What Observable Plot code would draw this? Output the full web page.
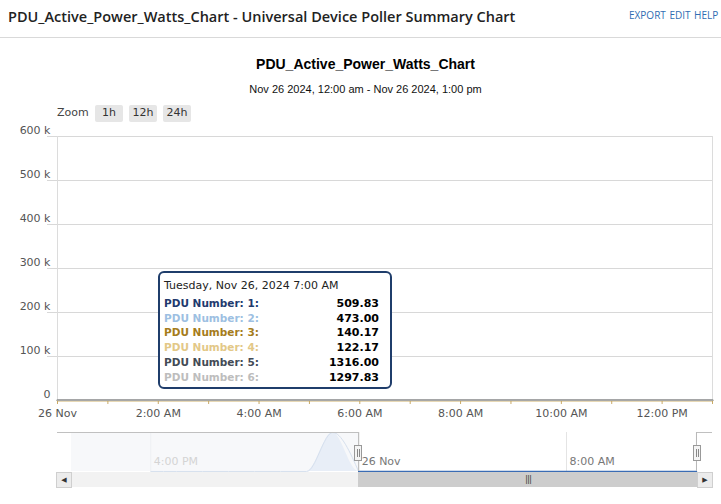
<!DOCTYPE html>
<html><head><meta charset="utf-8">
<script src="https://cdn.jsdelivr.net/npm/d3@7"></script>
<script src="https://cdn.jsdelivr.net/npm/@observablehq/plot@0.6"></script>
<style>
html,body{margin:0;padding:0;background:#fff;}
body{width:721px;height:504px;position:relative;overflow:hidden;font-family:"DejaVu Sans",sans-serif;}
.abs{position:absolute;}
#hdrTitle{left:8px;top:7px;font-family:"Open Sans";font-weight:600;font-size:14.5px;color:#222;white-space:nowrap;}
#hdrLinks{left:629px;top:8px;font-family:"Open Sans";font-size:10px;color:#2f6db3;white-space:nowrap;word-spacing:1px;}
#hdrLine{left:0;top:37px;width:721px;height:1px;background:#d9d9d9;}
#title{left:0;width:731px;top:56px;text-align:center;font-family:"Liberation Sans",Arial;font-weight:bold;font-size:14px;color:#000;}
#subtitle{left:0;width:731px;top:83px;text-align:center;font-family:"Liberation Sans",Arial;font-size:11px;color:#111;}
#zoomLbl{left:57px;top:106px;font-size:11px;color:#444;}
.zbtn{top:105px;height:17px;line-height:16px;width:28px;background:#e6e6e6;border-radius:2px;text-align:center;font-size:11px;color:#333;}
#tip{left:158px;top:271px;width:230px;height:114px;border:2px solid #1f3d6b;border-radius:6px;background:#fff;}
#tip .hd{position:absolute;left:4px;top:6px;font-size:11px;color:#222;white-space:nowrap;}
#tip .row{position:absolute;left:4px;width:215px;height:15px;font-size:10.5px;font-weight:bold;white-space:nowrap;}
#tip .row .v{position:absolute;right:0;top:0;color:#000;font-size:11px;}
.nline{background:#c0c0c0;height:1px;top:432px;}
.handle{top:445px;width:6px;height:14px;border:1px solid #999;background:#f4f4f4;}
.handle i{position:absolute;top:3px;width:1px;height:8px;background:#888;}
#track{left:71px;top:472px;width:627px;height:15px;background:#f2f2f2;}
#thumb{left:358px;top:472px;width:340px;height:15px;background:#cdcdcd;text-align:center;font-size:9px;line-height:15px;color:#444;letter-spacing:-1px;}
.sbtn{top:472px;width:14px;height:14px;border:1px solid #cfcfcf;background:#ececec;font-size:7px;line-height:14px;text-align:center;color:#333;}
</style></head>
<body>
<div id="hdrTitle" class="abs">PDU_Active_Power_Watts_Chart - Universal Device Poller Summary Chart</div>
<div id="hdrLinks" class="abs">EXPORT EDIT HELP</div>
<div id="hdrLine" class="abs"></div>
<div id="title" class="abs">PDU_Active_Power_Watts_Chart</div>
<div id="subtitle" class="abs">Nov 26 2024, 12:00 am - Nov 26 2024, 1:00 pm</div>
<div id="zoomLbl" class="abs">Zoom</div>
<div class="abs zbtn" style="left:95px">1h</div>
<div class="abs zbtn" style="left:129px">12h</div>
<div class="abs zbtn" style="left:163px">24h</div>
<div id="main" class="abs" style="left:0;top:0"></div>
<div id="nav" class="abs" style="left:0;top:428px"></div>
<div class="abs nline" style="left:57px;width:301px"></div>
<div class="abs nline" style="left:697px;width:15px"></div>
<div class="abs handle" style="left:354px"><i style="left:2px"></i><i style="left:4px"></i></div>
<div class="abs handle" style="left:693px"><i style="left:2px"></i><i style="left:4px"></i></div>
<div id="track" class="abs"></div>
<div id="thumb" class="abs">|||</div>
<div class="abs sbtn" style="left:56px">&#9664;</div>
<div class="abs sbtn" style="left:697px">&#9654;</div>
<div id="tip" class="abs"></div>
<script>
// ---- data ----
const hours = ["2024-11-26T00:00Z","2024-11-26T01:00Z","2024-11-26T02:00Z","2024-11-26T03:00Z","2024-11-26T04:00Z","2024-11-26T05:00Z","2024-11-26T06:00Z","2024-11-26T07:00Z","2024-11-26T08:00Z","2024-11-26T09:00Z","2024-11-26T10:00Z","2024-11-26T11:00Z","2024-11-26T12:00Z","2024-11-26T13:00Z"];
const seriesNames = ["PDU Number: 1","PDU Number: 2","PDU Number: 3","PDU Number: 4","PDU Number: 5","PDU Number: 6"];
const seriesColors = ["#1f3a6e","#9dbfe2","#a57c1b","#e3c887","#434b55","#bdbdbd"];
const pdu1 = [512.5,508.3,510.7,506.2,511.0,507.8,509.4,509.83,513.2,515.6,511.9,514.3,510.2,508.7];
const pdu2 = [470.2,468.5,474.1,471.3,469.8,472.6,470.9,473.00,476.4,478.1,474.7,477.3,473.5,471.8];
const pdu3 = [138.5,139.7,141.2,137.9,140.8,139.3,141.5,140.17,142.6,143.8,141.9,142.4,140.6,139.8];
const pdu4 = [120.8,121.5,123.0,119.7,122.4,121.1,123.3,122.17,124.5,125.2,123.8,124.1,122.6,121.9];
const pdu5 = [1308.5,1311.2,1313.7,1306.8,1310.4,1312.9,1314.6,1316.00,1320.3,1322.8,1318.5,1321.1,1317.4,1315.2];
const pdu6 = [1290.3,1293.1,1295.6,1288.7,1292.2,1294.8,1296.4,1297.83,1302.1,1304.6,1300.3,1302.9,1299.2,1297.0];
const yTicks = [0,100000,200000,300000,400000,500000,600000];
// navigator (first series, wider range)
const navPreTimes = ["2024-11-25T16:00Z","2024-11-25T17:00Z","2024-11-25T18:00Z","2024-11-25T19:00Z","2024-11-25T20:00Z","2024-11-25T21:00Z","2024-11-25T22:00Z","2024-11-25T23:00Z"];
const navPreValues = [505.4,507.9,503.6,508.8,506.1,504.7,612.3,560000];
const navTicks = ["2024-11-25T16:00Z","2024-11-26T00:00Z","2024-11-26T08:00Z"];
const tooltipTime = "2024-11-26T07:00Z";

// ---- build tables ----
const all = [pdu1,pdu2,pdu3,pdu4,pdu5,pdu6];
const rows = [];
all.forEach((arr,i)=>arr.forEach((v,j)=>rows.push({series:seriesNames[i], t:new Date(hours[j]), v})));
const navData = navPreTimes.map((t,i)=>({t:new Date(t), v:navPreValues[i]}))
  .concat(hours.map((t,i)=>({t:new Date(t), v:pdu1[i]})));
const midnight = new Date(hours[0]);

const fmtTime = d => d.getUTCHours()===0 ? d3.utcFormat("%-d %b")(d) : d3.utcFormat("%-I:%M %p")(d);
const hourTicks = hours.map(h=>new Date(h));
const labelTicks = hourTicks.filter(d=>d.getUTCHours()%2===0);

const main = Plot.plot({
  width:721, height:420,
  marginLeft:57, marginRight:9, marginTop:136, marginBottom:20,
  style:{background:"transparent", overflow:"visible", fontFamily:"DejaVu Sans", fontSize:"11px"},
  x:{type:"utc", domain:[new Date(hours[0]), new Date(hours[hours.length-1])]},
  y:{domain:[0,600000]},
  color:{domain:seriesNames, range:seriesColors},
  marks:[
    Plot.ruleY(yTicks.filter(d=>d>0), {stroke:"#d8d8d8", insetLeft:-10}),
    Plot.ruleX([new Date(hours[0]), new Date(hours[hours.length-1])], {stroke:"#dcdcdc"}),
    Plot.ruleY([0], {stroke:"#c0c0c0"}),
    Plot.axisX({ticks:hourTicks, tickSize:4, tickFormat:()=>"", stroke:"#c9aa68", strokeOpacity:1, label:null}),
    Plot.axisX({ticks:labelTicks, tickSize:0, tickPadding:9, tickFormat:fmtTime, fill:"#555", label:null}),
    Plot.axisY({ticks:yTicks, tickSize:0, tickPadding:7, dy:-6, fill:"#555", label:null,
      tickFormat:d=>d===0?"0":(d/1000)+" k"}),
    Plot.lineY(rows, {x:"t", y:"v", z:"series", stroke:"series", strokeWidth:1.5})
  ]
});
document.getElementById("main").appendChild(main);

const nav = Plot.plot({
  width:721, height:62,
  marginLeft:71, marginRight:9, marginTop:4, marginBottom:19,
  style:{background:"transparent", overflow:"visible", fontFamily:"DejaVu Sans", fontSize:"11px"},
  x:{type:"utc", domain:[new Date("2024-11-25T12:57Z"), new Date("2024-11-26T13:37Z")], axis:null},
  y:{domain:[0,d3.max(navData,d=>d.v)], axis:null},
  marks:[
    Plot.rect([0], {x1:new Date("2024-11-25T12:57Z"), x2:midnight, fill:"#f7f8fa"}),
    Plot.ruleX(navTicks.slice(0,1).map(d=>new Date(d)), {stroke:"#eef0f3"}),
    Plot.ruleX(navTicks.slice(1).map(d=>new Date(d)), {stroke:"#e4e4e4"}),
    Plot.areaY(navData, {x:"t", y:"v", curve:"monotone-x", fill:"#e8eef7"}),
    Plot.lineY(navData.filter(d=>d.t<=midnight), {x:"t", y:"v", curve:"monotone-x", stroke:"#d6e0ee", strokeWidth:1}),
    Plot.lineY(navData.filter(d=>d.t>=midnight), {x:"t", y:"v", curve:"monotone-x", stroke:"#3a6cb4", strokeWidth:1.5}),
    Plot.ruleX([midnight, new Date(hours[hours.length-1])], {stroke:"#b8b8b8"}),
    Plot.text(navTicks.slice(0,1).map(d=>new Date(d)), {x:d=>d, frameAnchor:"bottom", dy:-7, dx:3, textAnchor:"start", text:fmtTime, fill:"#d4d4d4"}),
    Plot.text(navTicks.slice(1).map(d=>new Date(d)), {x:d=>d, frameAnchor:"bottom", dy:-7, dx:3, textAnchor:"start", text:fmtTime, fill:"#777"})
  ]
});
document.getElementById("nav").appendChild(nav);

// tooltip text from data
const tip = document.getElementById("tip");
const ti = hours.indexOf(tooltipTime);
const hd = document.createElement("div");
hd.className="hd";
hd.textContent = d3.utcFormat("%A, %b %-d, %Y %-I:%M %p")(new Date(tooltipTime));
tip.appendChild(hd);
all.forEach((arr,i)=>{
  const r = document.createElement("div");
  r.className="row";
  r.style.top = (24 + i*14.7) + "px";
  r.style.color = seriesColors[i];
  r.innerHTML = `<span>${seriesNames[i]}:</span><span class="v">${arr[ti].toFixed(2)}</span>`;
  tip.appendChild(r);
});
</script>
</body></html>
